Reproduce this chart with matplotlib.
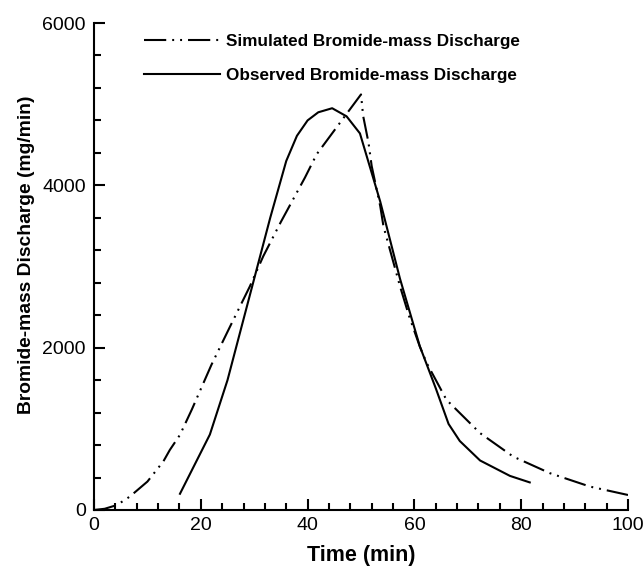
import matplotlib
matplotlib.use("Agg")
import matplotlib.pyplot as plt
from matplotlib.ticker import MultipleLocator

plt.rcParams['font.family'] = ['Liberation Sans', 'DejaVu Sans']
plt.rcParams['lines.scale_dashes'] = False

# Simulated bromide-mass discharge (mg/min)
sim_t = [0, 2, 4, 5.2, 6.7, 10, 13, 14.2, 16.1, 18.3, 22, 25.5, 29.2, 31.7, 35, 39.5,
         41.7, 46.1, 50, 50.4, 51.4, 52, 53.6, 54.2, 57.3, 59, 61, 62.3, 66, 72.3,
         78.5, 85.4, 92.9, 100]
sim_q = [0, 15, 55, 100, 165, 350, 600, 740, 926, 1235, 1790, 2263, 2757, 3127, 3550,
         4095, 4383, 4774, 5120, 4856, 4527, 4238, 3745, 3498, 2757, 2390, 2016, 1811,
         1358, 947, 658, 453, 288, 185]

# Observed bromide-mass discharge (mg/min)
obs_t = [16.1, 21.7, 25, 30, 33, 36, 38, 40, 42, 44.6, 47.3, 49.8, 53.6, 57.3, 61,
         64, 66.4, 68.5, 72.3, 77.9, 81.6]
obs_q = [200, 930, 1600, 2850, 3600, 4300, 4610, 4800, 4900, 4950, 4850, 4640, 3800,
         2850, 2020, 1500, 1060, 850, 610, 420, 340]

fig = plt.figure(figsize=(6.44, 5.67), dpi=100)
ax = fig.add_axes([94 / 644, 57 / 567, 534 / 644, 487 / 567])

ax.plot(sim_t, sim_q, color='black', lw=1.5,
        dashes=(16, 4.3, 1.4, 4.3, 1.4, 4.3),
        label='Simulated Bromide-mass Discharge')
ax.plot(obs_t, obs_q, color='black', lw=1.5, linestyle='-',
        label='Observed Bromide-mass Discharge')

ax.set_xlim(0, 100)
ax.set_ylim(0, 6000)
ax.xaxis.set_major_locator(MultipleLocator(20))
ax.xaxis.set_minor_locator(MultipleLocator(4))
ax.yaxis.set_major_locator(MultipleLocator(2000))
ax.yaxis.set_minor_locator(MultipleLocator(400))

for s in ['top', 'right']:
    ax.spines[s].set_visible(False)
for s in ['left', 'bottom']:
    ax.spines[s].set_linewidth(1.5)

ax.tick_params(which='major', direction='in', length=8, width=1.5, labelsize=14)
ax.tick_params(which='minor', direction='in', length=5, width=1.5)
ax.tick_params(axis='y', which='major', pad=6)
ax.tick_params(axis='x', which='major', pad=5)

ax.set_xlabel('Time (min)', fontsize=15.5, fontweight='bold', labelpad=8)
ax.set_ylabel('Bromide-mass Discharge (mg/min)', fontsize=13.9, fontweight='bold')
ax.yaxis.set_label_coords((-94 + 35) / 534, 0.524)

leg = ax.legend(loc='upper left', bbox_to_anchor=(0.064, 1.008), frameon=False,
                prop={'weight': 'bold', 'size': 12.3}, handlelength=4.5,
                handletextpad=0.35, labelspacing=1.08)

fig.savefig('out.png', dpi=100)
